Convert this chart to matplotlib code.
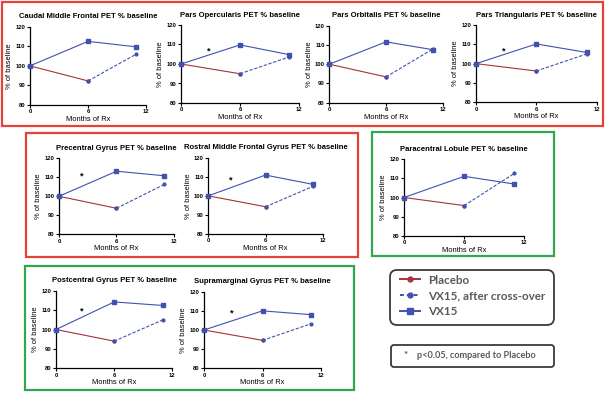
import matplotlib
matplotlib.use("Agg")
import matplotlib.pyplot as plt
from matplotlib.lines import Line2D
from matplotlib.patches import FancyBboxPatch

W, H = 605, 393

# data (% of baseline)
regions = ["Caudal Middle Frontal", "Pars Opercularis", "Pars Orbitalis",
           "Pars Triangularis", "Precentral Gyrus", "Rostral Middle Frontal Gyrus",
           "Paracentral Lobule", "Postcentral Gyrus", "Supramarginal Gyrus"]
months_vx15 = [0, 6, 11]
months_placebo = [0, 6]
months_cross = [6, 11]
baseline = 100
vx15_6 = [112.5, 109.8, 111.6, 110.2, 113.2, 110.9, 111.0, 114.2, 110.0]
vx15_11 = [109.7, 104.8, 107.5, 105.8, 110.8, 106.0, 107.0, 112.4, 108.0]
placebo_6 = [92.3, 95.0, 93.4, 96.2, 93.7, 94.3, 95.8, 94.0, 94.6]
cross_11 = [106.0, 103.6, 108.0, 105.0, 106.3, 105.0, 112.5, 104.9, 103.3]
significant = [False, True, False, True, True, True, False, True, True]
star_x = [None, 2.8, None, 2.8, 2.4, 2.3, None, 2.7, 2.8]
star_y = [None, 106.7, None, 106.7, 110.5, 108.5, None, 109.5, 108.7]

legend_labels = ["Placebo", "VX15, after cross-over", "VX15"]
footnote_star = "*"
footnote = "p<0.05, compared to Placebo"

# layout in pixels (x0, y0, x1, y1)
panel_px = [(30, 26.7, 146, 105), (181, 25, 299, 103), (329.3, 25.7, 442.7, 102.7),
            (476, 25, 596.7, 102.3), (59, 158.3, 174, 234.3), (208.3, 157.7, 322.7, 234),
            (404, 159, 524.3, 236), (56, 290.7, 172.3, 368.3), (204, 291.7, 321, 368.3)]
frames_px = [((1.5, 1.5, 603, 126), "#E8403A"), ((26, 133, 358, 257), "#E8403A"),
             ((372, 132, 554, 256), "#33A651"), ((25, 266, 354, 390), "#33A651")]

RED = "#A8323A"
BLUE = "#4152AE"
GREY = "#595959"

plt.rcParams['font.family'] = ['Liberation Sans', 'DejaVu Sans']
plt.rcParams['font.weight'] = 'bold'

fig = plt.figure(figsize=(W / 100, H / 100), dpi=100)

bg = fig.add_axes([0, 0, 1, 1])
bg.set_xlim(0, W)
bg.set_ylim(H, 0)
bg.axis('off')
for (x0, y0, x1, y1), col in frames_px:
    bg.add_patch(plt.Rectangle((x0, y0), x1 - x0, y1 - y0, fill=False,
                               edgecolor=col, lw=1.6))

# legend + footnote boxes
bg.add_patch(FancyBboxPatch((390, 270), 164, 55, boxstyle="round,pad=0,rounding_size=7",
                            fill=False, edgecolor="#3a3a3a", lw=1.3))
bg.add_patch(FancyBboxPatch((391, 345), 163, 22, boxstyle="round,pad=0,rounding_size=3",
                            fill=False, edgecolor="#3a3a3a", lw=1.3))


def px_axes(x0, y0, x1, y1):
    return fig.add_axes([x0 / W, 1 - y1 / H, (x1 - x0) / W, (y1 - y0) / H])


for i, name in enumerate(regions):
    ax = px_axes(*panel_px[i])
    ax.plot(months_placebo, [baseline, placebo_6[i]], color=RED, lw=0.8,
            marker='o', ms=2.0, clip_on=False, zorder=2)
    ax.plot(months_cross, [placebo_6[i], cross_11[i]], color=BLUE, lw=0.8,
            ls=(0, (3, 1.5)), marker='o', ms=2.0, clip_on=False, zorder=3)
    ax.plot(months_vx15, [baseline, vx15_6[i], vx15_11[i]], color=BLUE, lw=0.8,
            marker='s', ms=2.6, clip_on=False, zorder=4)
    if significant[i]:
        ax.text(star_x[i], star_y[i], "*", ha='center', va='center', fontsize=6.5)
    ax.set_xlim(0, 12)
    ax.set_ylim(80, 120)
    ax.set_xticks([0, 6, 12])
    ax.set_yticks([80, 90, 100, 110, 120])
    for s in ('top', 'right'):
        ax.spines[s].set_visible(False)
    for s in ('left', 'bottom'):
        ax.spines[s].set_linewidth(0.9)
    ax.tick_params(length=2, width=0.8, labelsize=4.2, pad=1.2)
    ax.set_title(f"{name} PET % baseline", fontsize=5.5, fontweight='bold', pad=6)
    ax.set_xlabel("Months of Rx", fontsize=5.4, labelpad=1)
    ax.set_ylabel("% of baseline", fontsize=5.4, labelpad=1.5)

handles = [Line2D([], [], color=RED, lw=1.4, marker='o', ms=3.5),
           Line2D([], [], color=BLUE, lw=1.4, ls=(0, (2, 1.5)), marker='o', ms=3.5),
           Line2D([], [], color=BLUE, lw=1.4, marker='s', ms=4)]
leg = fig.legend(handles, legend_labels, loc='upper left',
                 bbox_to_anchor=(397 / W, 1 - 271 / H), frameon=False,
                 prop={'family': 'Lato', 'weight': 'bold', 'size': 8.4},
                 handlelength=1.7, handletextpad=0.7, labelspacing=0.42,
                 numpoints=1, borderaxespad=0, borderpad=0.3)
for t in leg.get_texts():
    t.set_color(GREY)

fig.text(406 / W, 1 - 355 / H, footnote_star, ha='center', va='center', color=GREY,
         fontsize=7, family='Lato', fontweight='bold')
fig.text(417 / W, 1 - 356 / H, footnote, ha='left', va='center', color=GREY,
         fontsize=6.6, family='Lato', fontweight='bold')

fig.savefig("out.png", dpi=100)
